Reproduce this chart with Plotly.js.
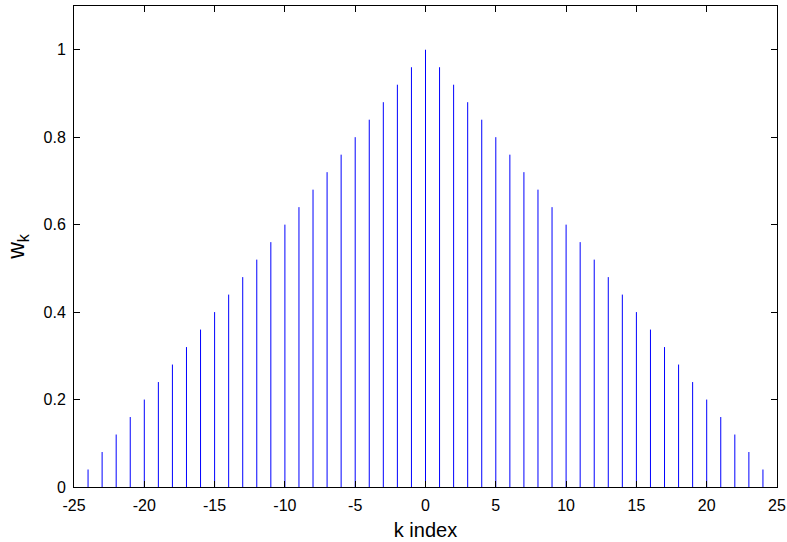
<!DOCTYPE html>
<html>
<head>
<meta charset="utf-8">
<script src="https://cdn.plot.ly/plotly-3.0.1.min.js"></script>
<style>html,body{margin:0;padding:0;background:#fff;}#chart{width:787px;height:542px;}</style>
</head>
<body>
<div id="chart"></div>
<script>
var kIndex = [-24,-23,-22,-21,-20,-19,-18,-17,-16,-15,-14,-13,-12,-11,-10,-9,-8,-7,-6,-5,-4,-3,-2,-1,0,1,2,3,4,5,6,7,8,9,10,11,12,13,14,15,16,17,18,19,20,21,22,23,24];
var wValues = [0.04,0.08,0.12,0.16,0.20,0.24,0.28,0.32,0.36,0.40,0.44,0.48,0.52,0.56,0.60,0.64,0.68,0.72,0.76,0.80,0.84,0.88,0.92,0.96,1.00,0.96,0.92,0.88,0.84,0.80,0.76,0.72,0.68,0.64,0.60,0.56,0.52,0.48,0.44,0.40,0.36,0.32,0.28,0.24,0.20,0.16,0.12,0.08,0.04];
var xTicks = [-25,-20,-15,-10,-5,0,5,10,15,20,25];
var yTicks = [0,0.2,0.4,0.6,0.8,1];
var yTickLabels = ['0','0.2','0.4','0.6','0.8','1'];

var sx = [], sy = [];
for (var i = 0; i < kIndex.length; i++) {
  sx.push(kIndex[i], kIndex[i], null);
  sy.push(0, wValues[i], null);
}
var trace = {
  x: sx, y: sy, type: 'scatter', mode: 'lines',
  line: {color: '#0000ff', width: 1},
  hoverinfo: 'skip', showlegend: false
};
var fam = 'Liberation Sans, Arial, Helvetica, sans-serif';
var font = {family: fam, size: 16, color: '#000'};
var layout = {
  width: 787, height: 542,
  margin: {l: 74, r: 10, t: 6, b: 55},
  paper_bgcolor: '#fff', plot_bgcolor: '#fff',
  font: font,
  showlegend: false,
  xaxis: {
    range: [-25, 25], tickvals: xTicks, ticktext: xTicks.map(String),
    ticks: 'inside', ticklen: 6, tickwidth: 1, tickcolor: '#000',
    showline: true, linecolor: '#000', linewidth: 1, mirror: 'ticks',
    showgrid: false, zeroline: false,
    tickfont: font, ticklabelstandoff: 4,
    title: {text: 'k index', font: {family: fam, size: 20, color: '#000'}, standoff: 9}
  },
  yaxis: {
    range: [0, 1.1], tickvals: yTicks, ticktext: yTickLabels,
    ticks: 'inside', ticklen: 6, tickwidth: 1, tickcolor: '#000',
    showline: true, linecolor: '#000', linewidth: 1, mirror: 'ticks',
    showgrid: false, zeroline: false,
    tickfont: font, ticklabelstandoff: 4,
    title: {text: 'w<sub>k</sub>', font: {family: fam, size: 23, color: '#000'}, standoff: 12}
  }
};
Plotly.newPlot('chart', [trace], layout, {staticPlot: true, displayModeBar: false});
</script>
</body>
</html>
